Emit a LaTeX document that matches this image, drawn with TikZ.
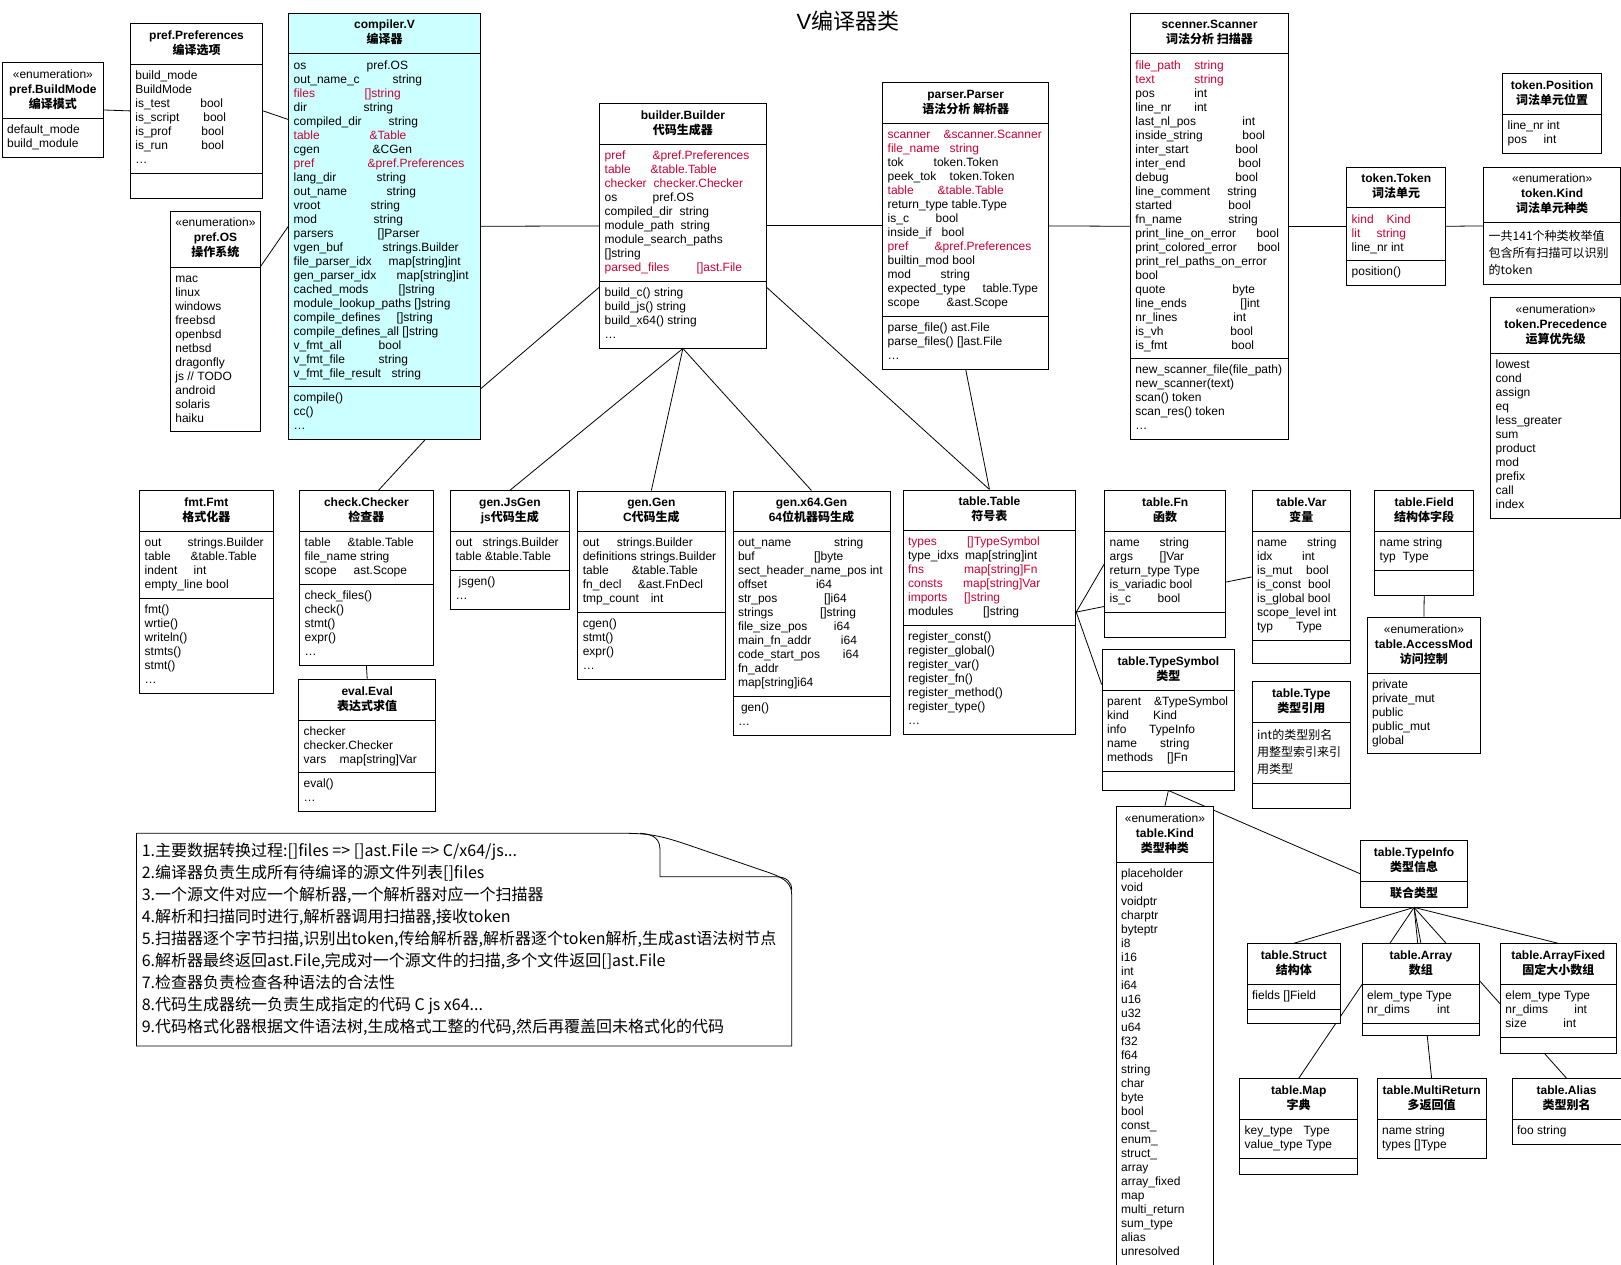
\documentclass[tikz,border=0pt]{standalone}
\usepackage{fontspec}
\setmainfont{Liberation Sans}
\newfontfamily\cjk{Noto Sans CJK SC}
\usepackage{xcolor}
\usetikzlibrary{shapes.multipart,calc,backgrounds}
\definecolor{vred}{RGB}{204,0,51}
\definecolor{vcyan}{RGB}{204,255,255}
\newcommand\zh[1]{{\cjk #1}}
\newcommand\hd[1]{{\fontsize{12}{15}\selectfont\bfseries\begin{tabular}{@{}c@{}}#1\end{tabular}}}
\newcommand\fl[1]{{\fontsize{12}{14}\selectfont\begin{tabular}{@{}l@{}}#1\end{tabular}}}
\newcommand\zl[1]{{\cjk\fontsize{12}{17}\selectfont\begin{tabular}{@{}l@{}}#1\end{tabular}}}
\newcommand\fd[3]{\makebox[#1pt][l]{#2}#3}
\newcommand\rd[1]{\textcolor{vred}{#1}}
\newcommand\emp[1][14]{\rule{0pt}{#1pt}}
\newcommand\enumtag{{\mdseries «enumeration»}}

\begin{document}
\begin{tikzpicture}[x=1pt,y=-1pt,
  cls/.style={rectangle split,rectangle split parts=#1,draw,line width=0.8pt,fill=white,
              anchor=north west,inner xsep=5pt,inner ysep=5pt,
              rectangle split part align={center,left,left}},
  cls/.default=3,
  link/.style={line width=0.8pt}]
  \useasboundingbox (0,0) rectangle (1621,1265);
  % 标题
  \node (title) at (848,21) {\fontsize{22}{26}\selectfont V\zh{编译器类}};
  % pref 包
  \node[cls=2,minimum width=101.6pt] (mode) at (1.7,62.3)
    {\hd{\enumtag\\pref.BuildMode\\\zh{编译模式}}
     \nodepart{two}\fl{default\_mode\\build\_module}};
  \node[cls,minimum width=132.3pt] (pref) at (130,23.3)
    {\hd{pref.Preferences\\\zh{编译选项}}
     \nodepart{two}\fl{build\_mode\\BuildMode\\\fd{65}{is\_test}{bool}\\\fd{68}{is\_script}{bool}\\
       \fd{66}{is\_prof}{bool}\\\fd{66}{is\_run}{bool}\\…}
     \nodepart{three}\emp};
  \node[cls=2,minimum width=89pt] (os) at (170,210.7)
    {\hd{\enumtag\\pref.OS\\\zh{操作系统}}
     \nodepart{two}\fl{mac\\linux\\windows\\freebsd\\openbsd\\netbsd\\dragonfly\\js // TODO\\android\\solaris\\haiku}};
  % 编译器
  \node[cls,minimum width=191.7pt,fill=vcyan] (comp) at (288.3,12.7)
    {\hd{compiler.V\\\zh{编译器}}
     \nodepart{two}\fl{\fd{73}{os}{pref.OS}\\\fd{99}{out\_name\_c}{string}\\\rd{\fd{71}{files}{[]string}}\\
       \fd{70}{dir}{string}\\\fd{95}{compiled\_dir}{string}\\\rd{\fd{76}{table}{\&Table}}\\
       \fd{79}{cgen}{\&CGen}\\\rd{\fd{74}{pref}{\&pref.Preferences}}\\\fd{83}{lang\_dir}{string}\\
       \fd{93}{out\_name}{string}\\\fd{77}{vroot}{string}\\\fd{80}{mod}{string}\\
       \fd{84}{parsers}{[]Parser}\\\fd{89}{vgen\_buf}{strings.Builder}\\
       \fd{95}{file\_parser\_idx}{map[string]int}\\\fd{103}{gen\_parser\_idx}{map[string]int}\\
       \fd{105}{cached\_mods}{[]string}\\module\_lookup\_paths []string\\
       \fd{103}{compile\_defines}{[]string}\\compile\_defines\_all []string\\
       \fd{85}{v\_fmt\_all}{bool}\\\fd{85}{v\_fmt\_file}{string}\\\fd{98}{v\_fmt\_file\_result}{string}}
     \nodepart{three}\fl{compile()\\cc()\\…}};
  % 代码生成器 / 解析器 / 扫描器
  \node[cls,minimum width=166.4pt] (builder) at (599.3,103.3)
    {\hd{builder.Builder\\\zh{代码生成器}}
     \nodepart{two}\fl{\rd{\fd{48}{pref}{\&pref.Preferences}}\\\rd{\fd{46}{table}{\&table.Table}}\\
       \rd{\fd{49}{checker}{checker.Checker}}\\\fd{48}{os}{pref.OS}\\\fd{75}{compiled\_dir}{string}\\
       \fd{76}{module\_path}{string}\\module\_search\_paths\\{[]}string\\\rd{\fd{92}{parsed\_files}{[]ast.File}}}
     \nodepart{three}\fl{build\_c() string\\build\_js() string\\build\_x64() string\\…}};
  \node[cls,minimum width=166pt] (parser) at (882.3,82.3)
    {\hd{parser.Parser\\\zh{语法分析 解析器}}
     \nodepart{two}\fl{\rd{\fd{56}{scanner}{\&scanner.Scanner}}\\\rd{\fd{62}{file\_name}{string}}\\
       \fd{46}{tok}{token.Token}\\\fd{62}{peek\_tok}{token.Token}\\\rd{\fd{50}{table}{\&table.Table}}\\
       return\_type table.Type\\\fd{48}{is\_c}{bool}\\\fd{54}{inside\_if}{bool}\\
       \rd{\fd{47}{pref}{\&pref.Preferences}}\\builtin\_mod bool\\\fd{53}{mod}{string}\\
       \fd{95}{expected\_type}{table.Type}\\\fd{59}{scope}{\&ast.Scope}}
     \nodepart{three}\fl{parse\_file() ast.File\\parse\_files() []ast.File\\…}};
  \node[cls,minimum width=158.3pt] (scanner) at (1130,12.7)
    {\hd{scenner.Scanner\\\zh{词法分析 扫描器}}
     \nodepart{two}\fl{\rd{\fd{59}{file\_path}{string}}\\\rd{\fd{59}{text}{string}}\\\fd{59}{pos}{int}\\
       \fd{59}{line\_nr}{int}\\\fd{107}{last\_nl\_pos}{int}\\\fd{107}{inside\_string}{bool}\\
       \fd{100}{inter\_start}{bool}\\\fd{103}{inter\_end}{bool}\\\fd{100}{debug}{bool}\\
       \fd{92}{line\_comment}{string}\\\fd{93}{started}{bool}\\\fd{93}{fn\_name}{string}\\
       \fd{121}{print\_line\_on\_error}{bool}\\\fd{122}{print\_colored\_error}{bool}\\
       print\_rel\_paths\_on\_error\\bool\\\fd{97}{quote}{byte}\\\fd{105}{line\_ends}{[]int}\\
       \fd{98}{nr\_lines}{int}\\\fd{95}{is\_vh}{bool}\\\fd{96}{is\_fmt}{bool}}
     \nodepart{three}\fl{new\_scanner\_file(file\_path)\\new\_scanner(text)\\scan() token\\scan\_res() token\\…}};
  % token 包
  \node[cls,minimum width=99pt] (token) at (1346.3,166.7)
    {\hd{token.Token\\\zh{词法单元}}
     \nodepart{two}\fl{\rd{\fd{35}{kind}{Kind}}\\\rd{\fd{25}{lit}{string}}\\line\_nr int}
     \nodepart{three}\fl{position()}};
  \node[cls=2,minimum width=99pt] (tpos) at (1502.3,73.3)
    {\hd{token.Position\\\zh{词法单元位置}}
     \nodepart{two}\fl{line\_nr int\\\fd{36}{pos}{int}}};
  \node[cls=2,minimum width=137pt] (tkind) at (1483.3,166.7)
    {\hd{\enumtag\\token.Kind\\\zh{词法单元种类}}
     \nodepart{two}\zl{一共141个种类枚举值\\包含所有扫描可以识别\\的token}};
  \node[cls=2,minimum width=130pt] (prec) at (1490.3,297.3)
    {\hd{\enumtag\\token.Precedence\\\zh{运算优先级}}
     \nodepart{two}\fl{lowest\\cond\\assign\\eq\\less\_greater\\sum\\product\\mod\\prefix\\call\\index}};
  % 第二排
  \node[cls,minimum width=133.4pt] (fmt) at (139.3,490.3)
    {\hd{fmt.Fmt\\\zh{格式化器}}
     \nodepart{two}\fl{\fd{43}{out}{strings.Builder}\\\fd{46}{table}{\&table.Table}\\\fd{49}{indent}{int}\\empty\_line bool}
     \nodepart{three}\fl{fmt()\\wrtie()\\writeln()\\stmts()\\stmt()\\…}};
  \node[cls,minimum width=133.4pt] (checker) at (299.3,490.3)
    {\hd{check.Checker\\\zh{检查器}}
     \nodepart{two}\fl{\fd{43}{table}{\&table.Table}\\file\_name string\\\fd{49}{scope}{ast.Scope}}
     \nodepart{three}\fl{check\_files()\\check()\\stmt()\\expr()\\…}};
  \node[cls,minimum width=137pt] (eval) at (298.3,678.7)
    {\hd{eval.Eval\\\zh{表达式求值}}
     \nodepart{two}\fl{checker\\checker.Checker\\\fd{36}{vars}{map[string]Var}}
     \nodepart{three}\fl{eval()\\…}};
  \node[cls,minimum width=118.4pt] (jsgen) at (450.3,490.3)
    {\hd{gen.JsGen\\js\zh{代码生成}}
     \nodepart{two}\fl{\fd{27}{out}{strings.Builder}\\table \&table.Table}
     \nodepart{three}\fl{\hspace{3pt}jsgen()\\…}};
  \node[cls,minimum width=147.1pt] (cgen) at (577.4,490.5)
    {\hd{gen.Gen\\C\zh{代码生成}}
     \nodepart{two}\fl{\fd{34}{out}{strings.Builder}\\definitions strings.Builder\\\fd{49}{table}{\&table.Table}\\
       \fd{55}{fn\_decl}{\&ast.FnDecl}\\\fd{68}{tmp\_count}{int}}
     \nodepart{three}\fl{cgen()\\stmt()\\expr()\\…}};
  \node[cls,minimum width=156.9pt] (x64) at (732.6,490.5)
    {\hd{gen.x64.Gen\\64\zh{位机器码生成}}
     \nodepart{two}\fl{\fd{96}{out\_name}{string}\\\fd{76}{buf}{[]byte}\\sect\_header\_name\_pos int\\
       \fd{78}{offset}{i64}\\\fd{86}{str\_pos}{[]i64}\\\fd{82}{strings}{[]string}\\\fd{96}{file\_size\_pos}{i64}\\
       \fd{103}{main\_fn\_addr}{i64}\\\fd{105}{code\_start\_pos}{i64}\\fn\_addr\\map[string]i64}
     \nodepart{three}\fl{\hspace{3pt}gen()\\…}};
  % 符号表
  \node[cls,minimum width=172.7pt] (ttable) at (902.7,489.5)
    {\hd{table.Table\\\zh{符号表}}
     \nodepart{two}\fl{\rd{\fd{59}{types}{[]TypeSymbol}}\\\fd{57}{type\_idxs}{map[string]int}\\
       \rd{\fd{56}{fns}{map[string]Fn}}\\\rd{\fd{55}{consts}{map[string]Var}}\\
       \rd{\fd{56}{imports}{[]string}}\\\fd{75}{modules}{[]string}}
     \nodepart{three}\fl{register\_const()\\register\_global()\\register\_var()\\register\_fn()\\
       register\_method()\\register\_type()\\…}};
  \node[cls,minimum width=121pt] (fn) at (1104.3,490.3)
    {\hd{table.Fn\\\zh{函数}}
     \nodepart{two}\fl{\fd{50}{name}{string}\\\fd{50}{args}{[]Var}\\return\_type Type\\is\_variadic bool\\\fd{48}{is\_c}{bool}}
     \nodepart{three}\emp};
  \node[cls,minimum width=98.6pt] (var) at (1251.7,490.3)
    {\hd{table.Var\\\zh{变量}}
     \nodepart{two}\fl{\fd{50}{name}{string}\\\fd{45}{idx}{int}\\\fd{49}{is\_mut}{bool}\\\fd{51}{is\_const}{bool}\\
       is\_global bool\\scope\_level int\\\fd{39}{typ}{Type}}
     \nodepart{three}\emp[12]};
  \node[cls,minimum width=99pt] (field) at (1374.3,490.3)
    {\hd{table.Field\\\zh{结构体字段}}
     \nodepart{two}\fl{name string\\\fd{23}{typ}{Type}}
     \nodepart{three}\emp};
  \node[cls=2,minimum width=113.6pt] (access) at (1366.7,616.7)
    {\hd{\enumtag\\table.AccessMod\\\zh{访问控制}}
     \nodepart{two}\fl{private\\private\_mut\\public\\public\_mut\\global}};
  \node[cls,minimum width=132.6pt] (tsym) at (1101.7,649.3)
    {\hd{table.TypeSymbol\\\zh{类型}}
     \nodepart{two}\fl{\fd{47}{parent}{\&TypeSymbol}\\\fd{46}{kind}{Kind}\\\fd{42}{info}{TypeInfo}\\
       \fd{53}{name}{string}\\\fd{60}{methods}{[]Fn}}
     \nodepart{three}\emp[8]};
  \node[cls,minimum width=98.6pt] (ttype) at (1251.7,680.7)
    {\hd{table.Type\\\zh{类型引用}}
     \nodepart{two}\zl{int的类型别名\\用整型索引来引\\用类型}
     \nodepart{three}\emp};
  \node[cls=2,minimum width=97.6pt] (kind) at (1115.7,806)
    {\hd{\enumtag\\table.Kind\\\zh{类型种类}}
     \nodepart{two}\fl{placeholder\\void\\voidptr\\charptr\\byteptr\\i8\\i16\\int\\i64\\u16\\u32\\u64\\f32\\f64\\
       string\\char\\byte\\bool\\const\_\\enum\_\\struct\_\\array\\array\_fixed\\map\\multi\_return\\
       sum\_type\\alias\\unresolved}};
  % 类型信息及各种类型
  \node[cls=2,minimum width=107.3pt,rectangle split part align={center,center}] (tinfo) at (1360,840)
    {\hd{table.TypeInfo\\\zh{类型信息}}
     \nodepart{two}\hd{\zh{联合类型}}};
  \node[cls,minimum width=93.3pt] (struct) at (1246.7,943.3)
    {\hd{table.Struct\\\zh{结构体}}
     \nodepart{two}\fl{fields []Field}
     \nodepart{three}\emp[3]};
  \node[cls,minimum width=117.6pt] (array) at (1361.7,943.3)
    {\hd{table.Array\\\zh{数组}}
     \nodepart{two}\fl{elem\_type Type\\\fd{70}{nr\_dims}{int}}
     \nodepart{three}\emp[1]};
  \node[cls,minimum width=115.7pt] (afixed) at (1500,943.3)
    {\hd{table.ArrayFixed\\\zh{固定大小数组}}
     \nodepart{two}\fl{elem\_type Type\\\fd{69}{nr\_dims}{int}\\\fd{58}{size}{int}}
     \nodepart{three}\emp[0]};
  \node[cls,minimum width=118pt] (map) at (1239.3,1078.3)
    {\hd{table.Map\\\zh{字典}}
     \nodepart{two}\fl{\fd{59}{key\_type}{Type}\\value\_type Type}
     \nodepart{three}\emp[0]};
  \node[cls=2,minimum width=109pt] (multi) at (1376.7,1078.3)
    {\hd{table.MultiReturn\\\zh{多返回值}}
     \nodepart{two}\fl{name string\\types []Type}};
  \node[cls=2,minimum width=109pt] (alias) at (1511.7,1078.3)
    {\hd{table.Alias\\\zh{类型别名}}
     \nodepart{two}\fl{foo string}};
  % 说明（卷角便签）
  \draw[line width=0.8pt] (136.5,833.3) -- (625,833.3) .. controls (655,833.3) and (668,838) .. (700,849)
    -- (770,873) .. controls (787,879) and (791.7,885) .. (791.7,895) -- (791.7,1046) -- (136.5,1046) -- cycle;
  \draw[line width=0.8pt] (640,833.3) .. controls (655,834) and (660,840) .. (660,850) -- (660,876.7)
    -- (775,876.7) .. controls (787,876.7) and (791.7,882) .. (791.7,890);
  \node[anchor=north west,inner sep=0pt] (notes) at (141.6,840.6)
    {\cjk\fontsize{16}{22}\selectfont\begin{tabular}{@{}l@{}}
      1.主要数据转换过程:[]files => []ast.File => C/x64/js...\\
      2.编译器负责生成所有待编译的源文件列表[]files\\
      3.一个源文件对应一个解析器,一个解析器对应一个扫描器\\
      4.解析和扫描同时进行,解析器调用扫描器,接收token\\
      5.扫描器逐个字节扫描,识别出token,传给解析器,解析器逐个token解析,生成ast语法树节点\\
      6.解析器最终返回ast.File,完成对一个源文件的扫描,多个文件返回[]ast.File\\
      7.检查器负责检查各种语法的合法性\\
      8.代码生成器统一负责生成指定的代码 C js x64...\\
      9.代码格式化器根据文件语法树,生成格式工整的代码,然后再覆盖回未格式化的代码
    \end{tabular}};
  % 连线（放在背景层，被方框遮住的部分不可见）
  \begin{scope}[on background layer]
    \draw[link] (mode.east) -- (pref.west);
    \draw[link] (pref.east) -- ($(comp.north west)!.25!(comp.south west)$);
    \draw[link] ($(os.north east)!.25!(os.south east)$) -- (comp.west);
    \draw[link] (comp.east) -- (builder.west);
    \draw[link] ($(comp.north east)!.88!(comp.south east)$) -- ($(builder.north west)!.75!(builder.south west)$);
    \draw[link] ($(comp.south west)!.71!(comp.south east)$) -- ($(checker.north west)!.59!(checker.north east)$);
    \draw[link] (builder.east) -- (parser.west);
    \draw[link] (parser.east) -- (scanner.west);
    \draw[link] (scanner.east) -- (token.west);
    \draw[link] (token.east) -- (tkind.west);
    \draw[link] (builder.south) -- (jsgen.north);
    \draw[link] (builder.south) -- (cgen.north);
    \draw[link] (builder.south) -- (x64.north);
    \draw[link] ($(builder.north east)!.75!(builder.south east)$) -- (ttable.north);
    \draw[link] (parser.south) -- (ttable.north);
    \draw[link] (checker.south) -- (eval.north);
    \draw[link] (ttable.east) -- (fn.west);
    \draw[link] (ttable.east) -- (var.west);
    \draw[link] (ttable.east) -- ($(tsym.north west)!.25!(tsym.south west)$);
    \draw[link] (field.south) -- (access.north);
    \draw[link] (tsym.south) -- (kind.north);
    \draw[link] (tsym.south) -- (tinfo.west);
    \draw[link] (tinfo.south) -- (struct.north);
    \draw[link] (tinfo.south) -- (array.north);
    \draw[link] (tinfo.south) -- (afixed.north);
    \draw[link] (tinfo.south) -- (map.north);
    \draw[link] (tinfo.south) -- (multi.north);
    \draw[link] (tinfo.south) -- (alias.north);
  \end{scope}
\end{tikzpicture}
\end{document}
